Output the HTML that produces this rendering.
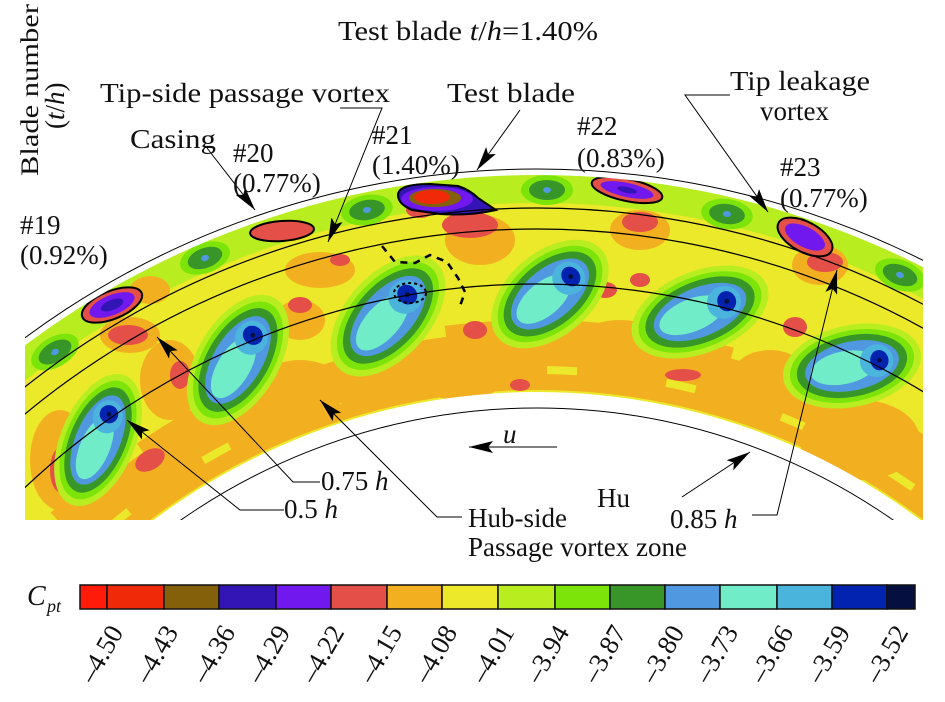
<!DOCTYPE html>
<html><head><meta charset="utf-8"><style>
html,body{margin:0;padding:0;background:#fff;overflow:hidden;width:945px;height:702px;}
svg{display:block;}
text{font-family:"Liberation Serif",serif;fill:#111;}
</style></head><body>
<svg width="945" height="702" viewBox="0 0 945 702" xmlns="http://www.w3.org/2000/svg">
<defs>
<clipPath id="rc"><rect x="25" y="0" width="898" height="520"/></clipPath>
<mask id="ann"><rect width="945" height="702" fill="#000"/><circle cx="537" cy="1030" r="855" fill="#fff"/><circle cx="537" cy="1030" r="638" fill="#000"/></mask>
<g id="vtx">
<ellipse rx="60" ry="100" fill="#b8ee20"/>
<ellipse rx="52" ry="90" fill="#7de40a"/>
<ellipse rx="45" ry="80" fill="#389628"/>
<ellipse rx="36" ry="68" fill="#5098e0"/>
<ellipse cy="12" rx="24" ry="48" fill="#70ecc8"/>
<ellipse cy="-36" rx="24" ry="24" fill="#4ab4dc"/>
<ellipse cy="-40" rx="15" ry="13" fill="#0222b0"/>
<circle cy="-40" r="3.5" fill="#061040"/>
</g>
<g id="spot">
<ellipse rx="26" ry="15" fill="#7de40a"/>
<ellipse rx="18" ry="10" fill="#389628"/>
<ellipse rx="4" ry="3" fill="#5098e0"/>
</g>
<marker id="ahb" viewBox="0 0 20 10" refX="20" refY="5" markerWidth="26" markerHeight="12" orient="auto" markerUnits="userSpaceOnUse"><path d="M0,0 L20,5 L0,10 L4,5 Z" fill="#000"/></marker>
</defs>

<g clip-path="url(#rc)"><g mask="url(#ann)">
<rect x="0" y="150" width="945" height="400" fill="#ece82a"/>
<circle cx="537" cy="1030" r="675" fill="none" stroke="#f2b020" stroke-width="70"/>
<circle cx="537" cy="1030" r="705" fill="none" stroke="#ece82a" stroke-width="12" stroke-dasharray="40 70"/>
<circle cx="537" cy="1030" r="660" fill="none" stroke="#ece82a" stroke-width="8" stroke-dasharray="30 90"/>
<circle cx="537" cy="1030" r="842" fill="none" stroke="#b8ee20" stroke-width="30"/>
<circle cx="537" cy="1030" r="812" fill="none" stroke="#ece82a" stroke-width="16" stroke-dasharray="60 40"/>
<g fill="#f2b020">
<ellipse cx="300" cy="390" rx="45" ry="30"/><ellipse cx="460" cy="370" rx="50" ry="30"/>
<ellipse cx="620" cy="345" rx="45" ry="25"/><ellipse cx="770" cy="380" rx="40" ry="30"/>
<ellipse cx="860" cy="440" rx="60" ry="40"/><ellipse cx="170" cy="380" rx="30" ry="40"/>
<ellipse cx="480" cy="240" rx="35" ry="25"/><ellipse cx="640" cy="230" rx="30" ry="20"/>
<ellipse cx="820" cy="265" rx="28" ry="20"/><ellipse cx="130" cy="335" rx="30" ry="18"/>
<ellipse cx="320" cy="270" rx="35" ry="18"/><ellipse cx="60" cy="460" rx="30" ry="50"/>
<ellipse cx="150" cy="290" rx="20" ry="14"/><ellipse cx="300" cy="320" rx="25" ry="20"/>
</g>
<g fill="#e45048">
<ellipse cx="470" cy="225" rx="28" ry="13"/><ellipse cx="640" cy="222" rx="18" ry="10"/>
<ellipse cx="825" cy="262" rx="18" ry="10"/><ellipse cx="128" cy="335" rx="20" ry="10"/>
<ellipse cx="180" cy="375" rx="10" ry="14"/><ellipse cx="150" cy="460" rx="16" ry="10" transform="rotate(-30 150 460)"/>
<ellipse cx="60" cy="470" rx="10" ry="22"/><ellipse cx="300" cy="305" rx="12" ry="8"/>
<ellipse cx="340" cy="260" rx="10" ry="6"/><ellipse cx="475" cy="330" rx="12" ry="9"/>
<ellipse cx="520" cy="385" rx="10" ry="6"/><ellipse cx="605" cy="290" rx="12" ry="8"/>
<ellipse cx="640" cy="280" rx="10" ry="7"/><ellipse cx="683" cy="375" rx="18" ry="6"/>
<ellipse cx="795" cy="327" rx="12" ry="10"/><ellipse cx="400" cy="430" rx="10" ry="5"/>
<ellipse cx="420" cy="210" rx="14" ry="8"/>
</g>
<use href="#spot" transform="translate(205,258) rotate(-20)"/>
<use href="#spot" transform="translate(367,210) rotate(-10)"/>
<use href="#spot" transform="translate(547,190)"/>
<use href="#spot" transform="translate(727,214) rotate(8)"/>
<use href="#spot" transform="translate(900,275) rotate(20)"/>
<use href="#spot" transform="translate(55,352) rotate(-30)"/>
<use href="#vtx" transform="translate(98,440) rotate(23) scale(0.62,0.7)"/>
<use href="#vtx" transform="translate(238,360) rotate(31) scale(0.68,0.72)"/>
<use href="#vtx" transform="translate(388,316) rotate(42) scale(0.7,0.72)"/>
<use href="#vtx" transform="translate(550,294) rotate(50) scale(0.7,0.68)"/>
<use href="#vtx" transform="translate(700,312) rotate(68) scale(0.68,0.72)"/>
<use href="#vtx" transform="translate(852,366) rotate(78) scale(0.68,0.7)"/>
<g transform="translate(112,305) rotate(-22)">
<ellipse rx="32" ry="14" fill="#e45048" stroke="#000" stroke-width="2"/>
<ellipse rx="24" ry="10" fill="#7018ee"/><ellipse rx="12" ry="5" fill="#3315b5"/></g>
<g transform="translate(282,231) rotate(-4)">
<ellipse rx="32" ry="10" fill="#e45048" stroke="#000" stroke-width="2"/></g>
<path d="M398,195 Q398,184 430,184 L458,186 Q470,190 478,198 L496,210 Q470,216 440,214 L412,210 Q398,204 398,195 Z" fill="#3315b5" stroke="#000" stroke-width="2"/>
<ellipse cx="437" cy="199" rx="36" ry="12" fill="#7018ee"/>
<ellipse cx="435" cy="198" rx="26" ry="9" fill="#85600a"/>
<ellipse cx="432" cy="197" rx="18" ry="7" fill="#f02a08"/>
<g transform="translate(627,190) rotate(12)">
<ellipse rx="36" ry="11" fill="#e45048" stroke="#000" stroke-width="2"/>
<ellipse rx="27" ry="7" fill="#7018ee"/><ellipse rx="10" ry="3" fill="#3315b5"/></g>
<g transform="translate(805,237) rotate(28)">
<ellipse rx="30" ry="15" fill="#e45048" stroke="#000" stroke-width="2"/>
<ellipse rx="22" ry="10" fill="#7018ee"/></g>
</g>
<g fill="none" stroke="#000" stroke-width="1.2">
<circle cx="537" cy="1030" r="746"/><circle cx="537" cy="1030" r="801"/><circle cx="537" cy="1030" r="822"/>
<circle cx="537" cy="1030" r="861" stroke-width="1"/><circle cx="537" cy="1030" r="622" stroke-width="1"/>
</g></g>
<path d="M382,246 L395,262 L415,263 L430,255 L447,262 L458,278 L465,292 L460,306" fill="none" stroke="#000" stroke-width="2.5" stroke-dasharray="7 6"/>
<ellipse cx="410" cy="293" rx="16" ry="10" fill="none" stroke="#000" stroke-width="2" stroke-dasharray="3 3"/>

<g fill="none" stroke="#000" stroke-width="1">
<path d="M207,148 L255,210" marker-end="url(#ahb)"/>
<path d="M340,108 L382,108 L328,242" marker-end="url(#ahb)"/>
<path d="M520,110 L477,170" marker-end="url(#ahb)"/>
<path d="M730,95 L685,95 L768,212" marker-end="url(#ahb)"/>
<path d="M320,482 L293,482 L157,337" marker-end="url(#ahb)"/>
<path d="M284,510 L240,510 L127,420" marker-end="url(#ahb)"/>
<path d="M462,517 L437,517 L320,400" marker-end="url(#ahb)"/>
<path d="M682,497 L750,452" marker-end="url(#ahb)"/>
<path d="M752,515 L777,515 L837,270" marker-end="url(#ahb)"/>
<path d="M557,447 L469,447" marker-end="url(#ahb)"/>
</g>

<g font-size="27">
<text x="338" y="40" textLength="260" lengthAdjust="spacingAndGlyphs">Test blade <tspan font-style="italic">t</tspan>/<tspan font-style="italic">h</tspan>=1.40%</text>
<text transform="translate(38,176) rotate(-90)" font-size="25" textLength="172" lengthAdjust="spacingAndGlyphs">Blade number</text>
<text transform="translate(64,129) rotate(-90)">(<tspan font-style="italic">t</tspan>/<tspan font-style="italic">h</tspan>)</text>
<text x="100" y="102" textLength="290" lengthAdjust="spacingAndGlyphs">Tip-side passage vortex</text>
<text x="447" y="102" textLength="128" lengthAdjust="spacingAndGlyphs">Test blade</text>
<text x="730" y="90" textLength="140" lengthAdjust="spacingAndGlyphs">Tip leakage</text>
<text x="760" y="120">vortex</text>
<text x="130" y="148" textLength="86" lengthAdjust="spacingAndGlyphs">Casing</text>
<text x="233" y="162">#20</text><text x="233" y="192">(0.77%)</text>
<text x="372" y="144">#21</text><text x="372" y="174">(1.40%)</text>
<text x="577" y="135">#22</text><text x="577" y="167">(0.83%)</text>
<text x="780" y="176">#23</text><text x="780" y="207">(0.77%)</text>
<text x="20" y="234">#19</text><text x="20" y="264">(0.92%)</text>
<text x="321" y="490">0.75 <tspan font-style="italic">h</tspan></text>
<text x="284" y="518">0.5 <tspan font-style="italic">h</tspan></text>
<text x="468" y="527">Hub-side</text>
<text x="468" y="556">Passage vortex zone</text>
<text x="597" y="507">Hu</text>
<text x="670" y="528">0.85 <tspan font-style="italic">h</tspan></text>
<text x="503" y="443" font-style="italic">u</text>
</g>

<text x="27" y="605" font-size="28" font-style="italic">C</text>
<text x="47" y="612" font-size="18" font-style="italic">pt</text>
<g stroke="#111" stroke-width="1.5">
<rect x="80" y="585" width="27" height="24" fill="#ff1a0a"/>
<rect x="107" y="585" width="57" height="24" fill="#f02a08"/>
<rect x="164" y="585" width="55" height="24" fill="#85600a"/>
<rect x="219" y="585" width="57" height="24" fill="#3315b5"/>
<rect x="276" y="585" width="55" height="24" fill="#7018ee"/>
<rect x="331" y="585" width="56" height="24" fill="#e45048"/>
<rect x="387" y="585" width="55" height="24" fill="#f2b020"/>
<rect x="442" y="585" width="56" height="24" fill="#ece82a"/>
<rect x="498" y="585" width="57" height="24" fill="#b8ee20"/>
<rect x="555" y="585" width="55" height="24" fill="#7de40a"/>
<rect x="610" y="585" width="55" height="24" fill="#389628"/>
<rect x="665" y="585" width="55" height="24" fill="#5098e0"/>
<rect x="720" y="585" width="57" height="24" fill="#70ecc8"/>
<rect x="777" y="585" width="55" height="24" fill="#4ab4dc"/>
<rect x="832" y="585" width="55" height="24" fill="#0222b0"/>
<rect x="887" y="585" width="28" height="24" fill="#061040"/>
</g>
<g font-size="27" text-anchor="end">
<text transform="translate(124,632) rotate(-60)">–4.50</text>
<text transform="translate(179,632) rotate(-60)">–4.43</text>
<text transform="translate(236,632) rotate(-60)">–4.36</text>
<text transform="translate(291,632) rotate(-60)">–4.29</text>
<text transform="translate(345,632) rotate(-60)">–4.22</text>
<text transform="translate(403,632) rotate(-60)">–4.15</text>
<text transform="translate(458,632) rotate(-60)">–4.08</text>
<text transform="translate(515,632) rotate(-60)">–4.01</text>
<text transform="translate(570,632) rotate(-60)">–3.94</text>
<text transform="translate(627,632) rotate(-60)">–3.87</text>
<text transform="translate(685,632) rotate(-60)">–3.80</text>
<text transform="translate(739,632) rotate(-60)">–3.73</text>
<text transform="translate(794,632) rotate(-60)">–3.66</text>
<text transform="translate(851,632) rotate(-60)">–3.59</text>
<text transform="translate(909,632) rotate(-60)">–3.52</text>
</g>
</svg>
</body></html>
